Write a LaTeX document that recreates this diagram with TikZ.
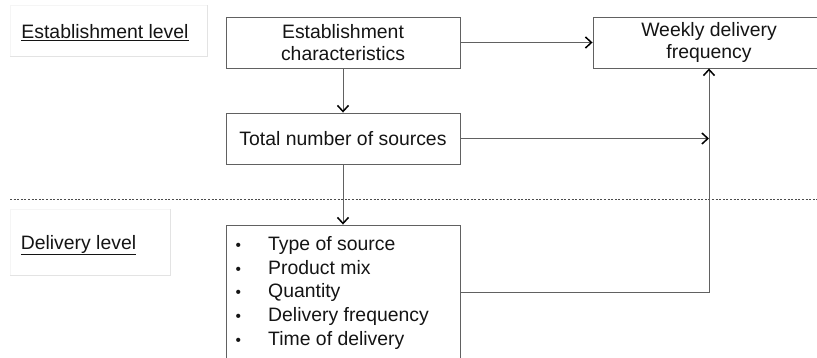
\documentclass[tikz,border=0pt]{standalone}
\usepackage{fontspec}
\setmainfont{Liberation Sans}
\usetikzlibrary{arrows.meta}
\begin{document}
\begin{tikzpicture}[x=1pt,y=-1pt,
  every node/.style={font=\fontsize{19.4}{22}\selectfont, text=black!92},
  box/.style={draw=black!62, line width=0.9pt, minimum height=51pt, inner sep=0pt, align=center},
  framelit/.style={draw=black!4, line width=0.8pt},
  frameshade/.style={draw=black!11, line width=0.8pt},
  link/.style={draw=black!62, line width=0.9pt},
  arr/.style={link, -{Straight Barb[length=6pt, width=11pt, line width=1.5pt, color=black]}},
  item/.style={anchor=base west, inner sep=0pt}
]
\useasboundingbox (0,0) rectangle (817,358);
\clip (0,0) rectangle (817,358);

% level labels with their faint frames (lit top/left, shaded right/bottom)
\draw[framelit] (10,56) -- (10,5) -- (207,5);
\draw[frameshade] (207,5) -- (207,56) -- (10,56);
\node (estlevel) at (105,33) {\underline{Establishment level}};
\draw[framelit] (10,275) -- (10,209) -- (170,209);
\draw[frameshade] (170,209) -- (170,275) -- (10,275);
\node (dellevel) at (78.5,245) {\underline{Delivery level}};

% separator between the two levels
\draw[black!70, line width=0.6pt, dash pattern=on 2pt off 1.6pt] (10,199) -- (817,199);

% boxes
\node[box, minimum width=234pt] (ec) at (343,42.5) {Establishment\\characteristics};
\node[box, minimum width=232pt] (wk) at (709,42.5) {Weekly delivery\\frequency};
\node[box, minimum width=234pt] (tns) at (343,138.5) {Total number of sources};
\node[box, minimum width=234pt, minimum height=150pt] (del) at (343,300) {};

% delivery attributes
\foreach \t [count=\i] in {Type of source, Product mix, Quantity, Delivery frequency, Time of delivery}{
  \node[item] (bul\i) at (235.5,{251+23.5*(\i-1)}) {\scalebox{0.8}{\textbullet}};
  \node[item] (itm\i) at (268,{251+23.5*(\i-1)}) {\t};
}

% connectors
\coordinate (elbow) at (709,292);
\draw[arr] (ec.east) -- (wk.west);
\draw[arr] (ec.south) -- (tns.north);
\draw[arr] (tns.east) -- (tns.east -| elbow);
\draw[arr] (tns.south) -- (del.north);
\draw[arr] (del.east |- elbow) -- (elbow) -- (wk.south);
\end{tikzpicture}
\end{document}
